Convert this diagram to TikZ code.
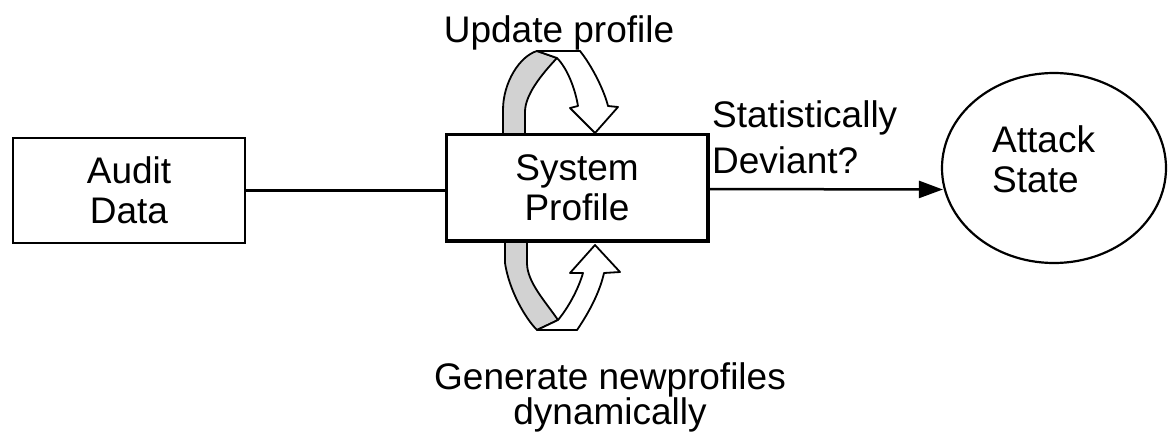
\documentclass[tikz,border=0pt]{standalone}
\usepackage{fontspec}
\setmainfont{Liberation Sans}
\usetikzlibrary{arrows.meta,shapes.geometric}
\begin{document}
\begin{tikzpicture}[x=1pt,y=-1pt,
  txt/.style={font=\fontsize{37}{40}\selectfont, inner sep=0pt, text=black},
  boxnode/.style={draw=black, line width=2.5pt, fill=white, inner sep=0pt, align=center,
     font=\fontsize{37}{40}\selectfont},
  statenode/.style={draw=black, line width=2.2pt, ellipse, inner sep=0pt},
  conn/.style={draw=black, line width=2.5pt},
  backleg/.style={fill=gray!35, draw=black, line width=1.8pt, line join=round},
  frontleg/.style={fill=white, draw=black, line width=1.8pt, line join=round}
]
\useasboundingbox (0,0) rectangle (1169,434);
\fill[white] (0,0) rectangle (1169,434);

% nodes
\node[boxnode, minimum width=232pt, minimum height=105pt] (audit) at (129,190.5) {Audit\\Data};
\node[boxnode, minimum width=260pt, minimum height=105pt] (sysprof) at (577,187.5) {System\\Profile};
\node[statenode, minimum width=224pt, minimum height=190pt] (attack) at (1054,168) {};
\node[txt, anchor=north west, align=left] (attacktxt) at (992,125) {Attack\\State};
\node[txt, anchor=north west, align=left, font=\fontsize{37}{46}\selectfont] (devlbl) at (712,100) {Statistically\\Deviant?};
\node[txt, anchor=north] (updlbl) at (559,15) {Update profile};
\node[txt, anchor=north, align=center, font=\fontsize{37}{31}\selectfont] (genlbl) at (610,362) {Generate newprofiles\\dynamically};

% connectors
\draw[conn] (audit.east) -- (audit.east -| sysprof.west);
\coordinate (arrend) at ([yshift=-2pt]sysprof.east -| attack.west);
\draw[conn, -{Triangle[length=24pt,width=17pt]}] ([yshift=-1.5pt]sysprof.east) -- ([xshift=2pt]arrend);

% top looping arrow (update profile)
\filldraw[backleg] (503,135) -- (503,110) .. controls (503,82) and (520,56) .. (537,51)
  -- (557,58) .. controls (541,75) and (525,95) .. (525,112) -- (525,135) -- cycle;
\filldraw[frontleg] (537,51) -- (580,51) .. controls (592,66) and (604,90) .. (608,106)
  -- (618,107) -- (595,133) -- (570,108) -- (578,106)
  .. controls (575,88) and (567,68) .. (557,58) -- cycle;

% bottom looping arrow (generate new profiles)
\filldraw[backleg] (505,241) -- (505,263) .. controls (509,290) and (525,318) .. (537,330)
  -- (558,320) .. controls (545,301) and (527,282) .. (527,263) -- (527,241) -- cycle;
\filldraw[frontleg] (537,330) -- (577,330) .. controls (590,311) and (600,291) .. (604,273)
  -- (620,272) -- (595,245) -- (570,273) -- (583,273)
  .. controls (578,290) and (568,308) .. (558,320) -- cycle;

% redraw box borders over the leg bases
\draw[draw=black, line width=2.5pt] (sysprof.north west) rectangle (sysprof.south east);
\end{tikzpicture}
\end{document}
